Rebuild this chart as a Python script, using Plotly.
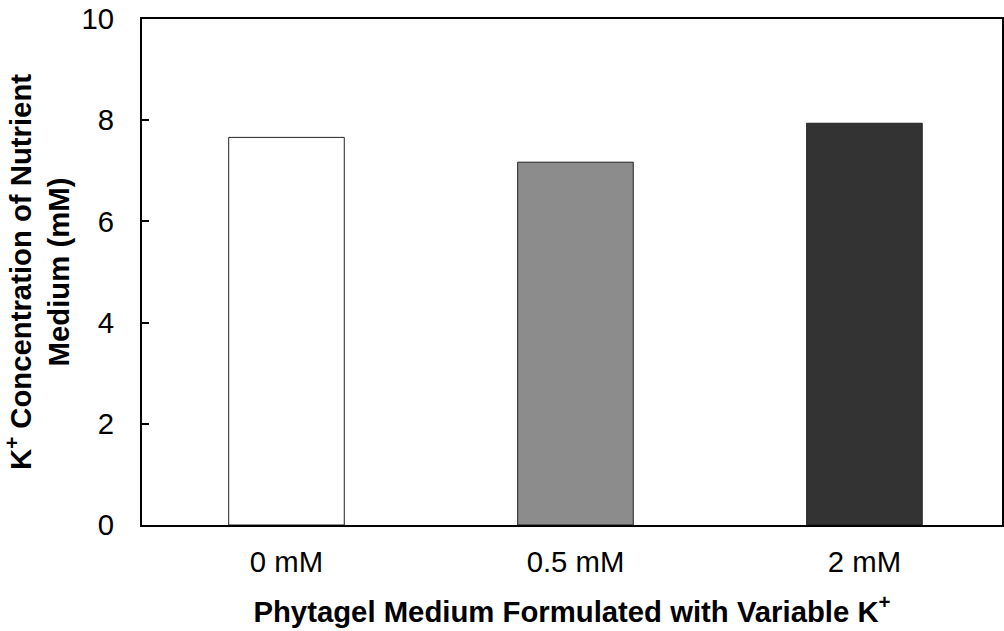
import plotly.graph_objects as go

# K+ concentration measured in each nutrient medium
categories = ["0 mM", "0.5 mM", "2 mM"]
concentration = [7.66, 7.17, 7.94]
bar_colors = ["#ffffff", "#8c8c8c", "#333333"]

font_family = "Liberation Sans, Arial, sans-serif"
font_size = 29.3

fig = go.Figure()

fig.add_trace(go.Bar(
    x=categories,
    y=concentration,
    width=0.4,
    marker=dict(color=bar_colors, line=dict(color="#222222", width=1)),
    showlegend=False,
))

fig.update_layout(
    width=1004,
    height=631,
    margin=dict(l=142, r=0, t=19, b=106),
    paper_bgcolor="white",
    plot_bgcolor="white",
    font=dict(family=font_family, size=font_size, color="black"),
    xaxis=dict(
        range=[-0.5, 2.476],
        showline=True, linecolor="black", linewidth=2, mirror=True,
        ticks="", showgrid=False, zeroline=False,
        ticklabelstandoff=10,
        tickfont=dict(size=font_size),
        title=dict(text="<b>Phytagel Medium Formulated with Variable K<sup>+</sup></b>",
                   font=dict(size=font_size), standoff=24),
    ),
    yaxis=dict(
        range=[0, 10],
        tickvals=[0, 2, 4, 6, 8, 10],
        showline=True, linecolor="black", linewidth=2, mirror=True,
        ticks="inside", ticklen=7, tickwidth=1.5, tickcolor="black",
        showgrid=False, zeroline=False,
        ticklabelstandoff=20,
        tickfont=dict(size=font_size),
        title=dict(text="<b>K<sup>+</sup> Concentration of Nutrient<br>Medium (mM)</b>",
                   font=dict(size=font_size), standoff=5),
    ),
)

fig.write_html("out.html")
